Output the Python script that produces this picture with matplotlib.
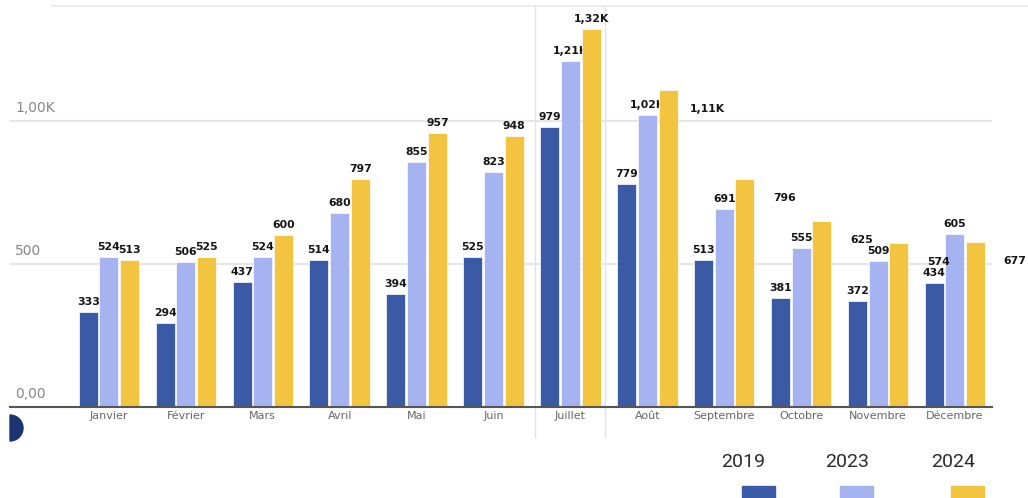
#Graphique mensuel 2019 / 2023 / 2024 en barres groupées
import numpy as np
import matplotlib.pyplot as plt
from matplotlib.patches import Rectangle, Wedge
from matplotlib.lines import Line2D
from matplotlib.transforms import IdentityTransform

#Données
mois = ['Janvier', 'Février', 'Mars', 'Avril', 'Mai', 'Juin', 'Juillet', 'Août',
        'Septembre', 'Octobre', 'Novembre', 'Décembre']
annees = ['2019', '2023', '2024']
valeurs_2019 = [333, 294, 437, 514, 394, 525, 979, 779, 513, 381, 372, 434]
valeurs_2023 = [524, 506, 524, 680, 855, 823, 1210, 1020, 691, 555, 509, 605]
valeurs_2024 = [513, 525, 600, 797, 957, 948, 1320, 1110, 796, 651, 574, 578]
#Etiquettes 2024 telles qu'affichées (les dernières sont décalées dans l'original)
etiquettes_2024 = ['513', '525', '600', '797', '957', '948', '1,32K', '1,11K',
                   '796', '625', '574', '677']
decalees_2024 = [False] * 7 + [True] * 5
graduations = [0, 500, 1000]
etiquettes_graduations = ['0,00', '500', '1,00K']

couleurs = ['#3b5aa6', '#a5b4f0', '#f2c43f']


def fmt(v):
    if v >= 1000:
        return f"{v / 1000:.2f}".replace('.', ',') + 'K'
    return str(v)


W, H = 1028, 498
fig = plt.figure(figsize=(W / 100, H / 100), dpi=100)
ax = fig.add_axes([10 / W, (H - 407) / H, (992 - 10) / W, (407 - 6) / H])
ax.patch.set_alpha(0)

x = np.arange(len(mois))
pas = 0.27
largeur = 0.247
series = [valeurs_2019, valeurs_2023, valeurs_2024]

for i, (vals, coul) in enumerate(zip(series, couleurs)):
    pos = x + (i - 1) * pas
    ax.bar(pos, vals, largeur, color=coul, edgecolor='white', linewidth=0.5,
           zorder=2 + i * 0.2)
    textes = [fmt(v) for v in vals] if i < 2 else etiquettes_2024
    for j, (p, v, t) in enumerate(zip(pos, vals, textes)):
        dx, dy = 0, 10
        if i == 2 and decalees_2024[j]:
            dx, dy = 39.5, -19
        ax.annotate(t, (p, v), xytext=(dx, dy), textcoords='offset pixels',
                    ha='center', va='center', fontsize=7.8, fontweight='bold',
                    color='#151515', zorder=2.1 + i * 0.2, annotation_clip=False)

ax.set_xlim(-1.287, 11.482)
ax.set_ylim(0, 1402)
ax.set_xticks(x, mois)
ax.tick_params(axis='x', length=0, pad=3, labelsize=8, labelcolor='#666666')
ax.set_yticks(graduations)
ax.set_yticklabels([])
ax.tick_params(axis='y', length=0)
ax.grid(axis='y', color='#e6e6e6', linewidth=1.5)
ax.set_axisbelow(True)
for s in ['top', 'right', 'left']:
    ax.spines[s].set_visible(False)
ax.spines['bottom'].set_color('#555555')
ax.spines['bottom'].set_linewidth(1.5)

for v, t in zip(graduations, etiquettes_graduations):
    ax.annotate(t, (-1.222, v), xytext=(0, 13), textcoords='offset pixels',
                ha='left', va='center', fontsize=10, color='#888888',
                annotation_clip=False)

#Lignes de décor de la capture
fig.add_artist(Line2D([52 / W, 1], [1 - 6 / H] * 2, color='#ececec', lw=1.5, zorder=-1))
for xv in [535, 605]:
    fig.add_artist(Line2D([xv / W] * 2, [1 - 6 / H, 1 - 437 / H], color='#e3e3e3',
                          lw=1, zorder=-1))
fig.add_artist(Wedge((10, H - 428), 13, -90, 90, transform=IdentityTransform(),
                     color='#1c3474'))

#Légende
for xc, xr, a, c in zip([743, 847, 953], [742, 840, 951], annees, couleurs):
    fig.text(xc / W, 1 - 462 / H, a, ha='center', va='center', fontsize=14,
             family='Roboto', color='#2b2b2b')
    fig.add_artist(Rectangle((xr / W, 0), 33 / W, 12 / H,
                             transform=fig.transFigure, color=c))

fig.savefig('out.png', dpi=100, facecolor='white')
